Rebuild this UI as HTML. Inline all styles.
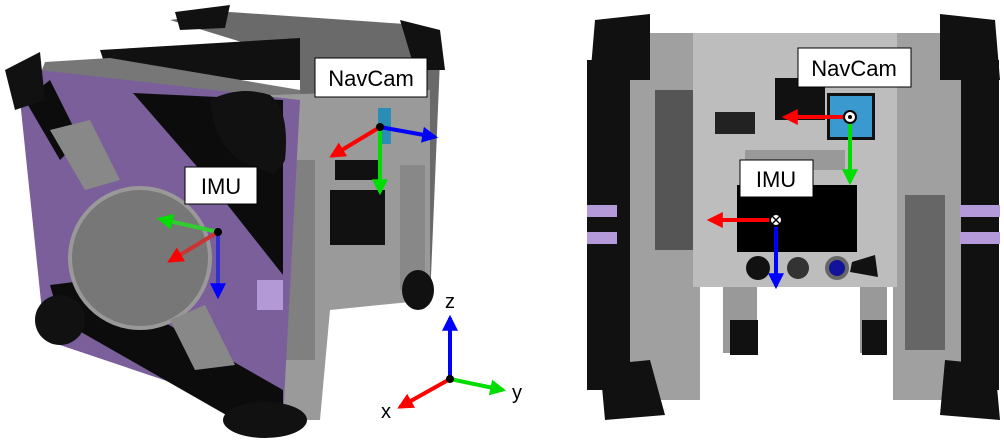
<!DOCTYPE html>
<html><head><meta charset="utf-8"><style>
html,body{margin:0;padding:0;background:#fff;width:1004px;height:444px;overflow:hidden}
svg{display:block}
text{font-family:"Liberation Sans",sans-serif}
</style></head><body>
<svg width="1004" height="444" viewBox="0 0 1004 444">
<defs>
<marker id="ar" viewBox="0 0 10 10" refX="8" refY="5" markerWidth="4" markerHeight="4" orient="auto"><path d="M0,0L10,5L0,10z" fill="#f00"/></marker>
<marker id="ag" viewBox="0 0 10 10" refX="8" refY="5" markerWidth="4" markerHeight="4" orient="auto"><path d="M0,0L10,5L0,10z" fill="#0d0"/></marker>
<marker id="ab" viewBox="0 0 10 10" refX="8" refY="5" markerWidth="4" markerHeight="4" orient="auto"><path d="M0,0L10,5L0,10z" fill="#00f"/></marker>
</defs>
<g>
<polygon points="170,20 230,12 420,25 440,60 430,300 300,300 300,60" fill="#6a6a6a"/>
<polygon points="100,50 300,38 300,80 110,80" fill="#111"/>
<polygon points="45,62 110,58 300,90 300,100 40,75" fill="#777"/>
<polygon points="175,12 230,5 225,28 180,30" fill="#111"/>
<polygon points="400,20 440,30 445,70 415,70" fill="#111"/>
<polygon points="270,95 430,90 430,300 330,310 320,420 280,420" fill="#9a9a9a"/>
<rect x="330" y="190" width="55" height="55" fill="#111"/>
<rect x="335" y="160" width="45" height="20" fill="#111"/>
<rect x="378" y="108" width="13" height="36" fill="#2a8db5"/>
<rect x="285" y="160" width="30" height="200" fill="#808080"/>
<rect x="400" y="165" width="25" height="125" fill="#888"/>
<polygon points="40,70 300,100 283,420 45,340 20,100" fill="#7a5f9a"/>
<polygon points="133,93 283,100 283,275 200,170" fill="#0c0c0c"/>
<polygon points="25,100 50,80 80,140 60,160" fill="#0c0c0c"/>
<polygon points="50,285 90,280 283,390 283,420 235,420 60,320" fill="#0c0c0c"/>
<rect x="257" y="280" width="26" height="30" fill="#b39ad6"/>
<circle cx="140" cy="258" r="70" fill="#777" stroke="#999" stroke-width="4"/>
<polygon points="50,130 90,120 120,180 85,190" fill="#888"/>
<polygon points="170,320 205,305 235,365 195,370" fill="#888"/>
<polygon points="5,70 40,52 45,100 15,110" fill="#111"/>
<path d="M210,100 Q240,85 270,95 Q290,110 285,160 Q275,180 265,170 Q215,160 210,100z" fill="#111"/>
<ellipse cx="60" cy="320" rx="25" ry="25" fill="#111"/>
<ellipse cx="265" cy="420" rx="42" ry="18" fill="#111"/>
<ellipse cx="418" cy="290" rx="16" ry="20" fill="#111"/>
</g>
<g>
<line x1="380" y1="127" x2="332" y2="156" stroke="#f00" stroke-width="4" marker-end="url(#ar)"/>
<line x1="380" y1="127" x2="380" y2="192" stroke="#0d0" stroke-width="4" marker-end="url(#ag)"/>
<line x1="380" y1="127" x2="435" y2="137" stroke="#00f" stroke-width="4" marker-end="url(#ab)"/>
<circle cx="380" cy="127" r="4" fill="#000"/>
</g>
<g>
<line x1="218" y1="232" x2="160" y2="219" stroke="#3c3" stroke-width="4" marker-end="url(#ag)"/>
<line x1="218" y1="232" x2="170" y2="261" stroke="#c33" stroke-width="4" marker-end="url(#ar)"/>
<line x1="218" y1="232" x2="218" y2="296" stroke="#33c" stroke-width="4" marker-end="url(#ab)"/>
<circle cx="218" cy="232" r="4" fill="#000"/>
</g>
<g><rect x="315" y="58" width="112" height="39" fill="#fff" stroke="#000"/><text x="371" y="86" font-size="22" text-anchor="middle">NavCam</text></g>
<g><rect x="185" y="167" width="72" height="37" fill="#fff" stroke="#000"/><text x="221" y="194" font-size="22" text-anchor="middle">IMU</text></g>
<g>
<line x1="450" y1="379" x2="450" y2="318" stroke="#00f" stroke-width="4" marker-end="url(#ab)"/>
<line x1="450" y1="379" x2="503" y2="390" stroke="#0d0" stroke-width="4" marker-end="url(#ag)"/>
<line x1="450" y1="379" x2="400" y2="407" stroke="#f00" stroke-width="4" marker-end="url(#ar)"/>
<circle cx="450" cy="379" r="4" fill="#000"/>
<text x="450" y="308" font-size="20" text-anchor="middle">z</text>
<text x="517" y="399" font-size="20" text-anchor="middle">y</text>
<text x="386" y="418" font-size="20" text-anchor="middle">x</text>
</g>
<g>
<rect x="587" y="60" width="53" height="330" fill="#111"/>
<rect x="957" y="60" width="42" height="330" fill="#111"/>
<rect x="630" y="33" width="70" height="367" fill="#a0a0a0"/>
<rect x="893" y="33" width="68" height="367" fill="#a0a0a0"/>
<rect x="655" y="90" width="40" height="160" fill="#555"/>
<rect x="905" y="195" width="40" height="155" fill="#666"/>
<rect x="693" y="33" width="204" height="254" fill="#bdbdbd"/>
<rect x="723" y="287" width="34" height="66" fill="#999"/>
<rect x="860" y="287" width="27" height="66" fill="#999"/>
<rect x="730" y="320" width="28" height="35" fill="#111"/>
<rect x="862" y="320" width="25" height="35" fill="#111"/>
<rect x="587" y="205" width="30" height="12" fill="#b49ad8"/>
<rect x="587" y="232" width="30" height="12" fill="#b49ad8"/>
<rect x="960" y="205" width="40" height="12" fill="#b49ad8"/>
<rect x="960" y="232" width="40" height="12" fill="#b49ad8"/>
<path d="M595,20 L650,14 L650,80 L590,80z" fill="#111"/>
<path d="M940,14 L995,20 L1000,80 L940,80z" fill="#111"/>
<path d="M600,365 L650,360 L665,415 L605,420z" fill="#111"/>
<path d="M945,360 L995,365 L1000,420 L940,415z" fill="#111"/>
<rect x="775" y="78" width="50" height="42" fill="#111"/>
<rect x="715" y="112" width="40" height="22" fill="#222"/>
<rect x="827" y="93" width="48" height="47" fill="#111"/>
<rect x="830" y="96" width="42" height="41" fill="#3a9ad0"/>
<rect x="737" y="185" width="120" height="67" fill="#000"/>
<rect x="745" y="150" width="100" height="20" fill="#999"/>
<circle cx="758" cy="268" r="12" fill="#111"/>
<circle cx="798" cy="268" r="11" fill="#333"/>
<circle cx="837" cy="268" r="12" fill="#666"/><circle cx="837" cy="268" r="8" fill="#12129a"/>
<polygon points="852,262 875,255 878,277 850,272" fill="#111"/>
</g>
<g>
<line x1="850" y1="117" x2="785" y2="117" stroke="#f00" stroke-width="4" marker-end="url(#ar)"/>
<line x1="850" y1="117" x2="850" y2="182" stroke="#0d0" stroke-width="4" marker-end="url(#ag)"/>
<circle cx="850" cy="117" r="6" fill="#fff" stroke="#000" stroke-width="2"/><circle cx="850" cy="117" r="2" fill="#000"/>
</g>
<g>
<line x1="776" y1="220" x2="710" y2="220" stroke="#f00" stroke-width="4" marker-end="url(#ar)"/>
<line x1="776" y1="220" x2="776" y2="286" stroke="#00f" stroke-width="4" marker-end="url(#ab)"/>
<circle cx="776" cy="220" r="6" fill="#fff" stroke="#000" stroke-width="2"/>
<path d="M772,216L780,224M780,216L772,224" stroke="#000" stroke-width="1.5"/>
</g>
<g><rect x="798" y="48" width="113" height="39" fill="#fff" stroke="#000"/><text x="854" y="76" font-size="22" text-anchor="middle">NavCam</text></g>
<g><rect x="740" y="160" width="73" height="37" fill="#fff" stroke="#000"/><text x="776" y="187" font-size="22" text-anchor="middle">IMU</text></g>
</svg>
</body></html>
